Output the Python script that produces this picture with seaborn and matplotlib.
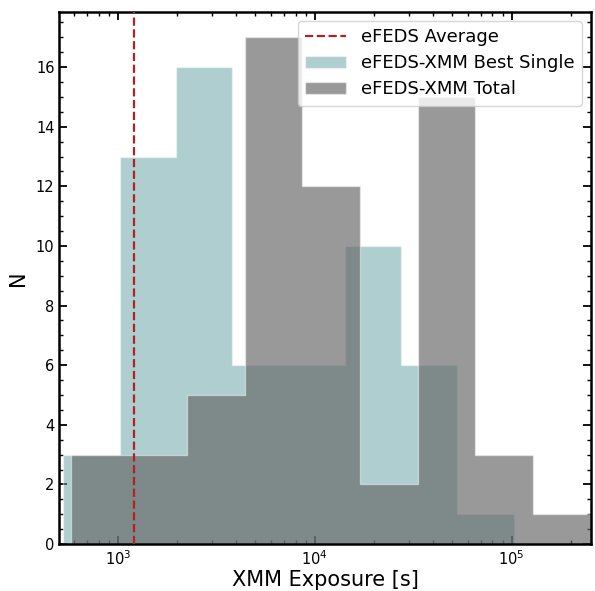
import numpy as np
import pandas as pd
import matplotlib
matplotlib.use("Agg")
import matplotlib.pyplot as plt
import seaborn as sns

# Histogram bin edges (exposure in seconds) and counts per bin
single_edges = [527, 1027, 1979, 3813, 7430, 14305, 27580, 53150, 102370]
single_counts = [3, 13, 16, 6, 6, 10, 6, 1]

total_edges = [582, 1143, 2244, 4406, 8650, 16982, 33340, 65460, 128520, 252400]
total_counts = [3, 3, 5, 17, 12, 2, 15, 3, 1]

efeds_average = 1210  # average eFEDS exposure [s]

sns.set_style("white")
plt.rcParams["font.family"] = ["DejaVu Sans"]
plt.rcParams["text.color"] = "black"
plt.rcParams["axes.labelcolor"] = "black"

fig = plt.figure(figsize=(5.95, 5.91), dpi=100)
ax = fig.add_axes([0.0997, 0.0795, 0.8931, 0.9002])


def centers(edges):
    e = np.log10(np.asarray(edges, dtype=float))
    return 10 ** ((e[:-1] + e[1:]) / 2)


single_df = pd.DataFrame({"exposure": centers(single_edges), "n": single_counts})
total_df = pd.DataFrame({"exposure": centers(total_edges), "n": total_counts})

edge = (1, 1, 1, 0.45)
ax.axvline(efeds_average, color="#b22222", ls="--", lw=1.6, label="eFEDS Average",
           zorder=5)
sns.histplot(data=single_df, x="exposure", weights="n", bins=single_edges,
             element="step", fill=True, color="cadetblue", alpha=0.5,
             edgecolor=edge, linewidth=1.0, ax=ax, label="eFEDS-XMM Best Single")
sns.histplot(data=total_df, x="exposure", weights="n", bins=total_edges,
             element="step", fill=True, color="#686868", alpha=0.675,
             edgecolor=edge, linewidth=1.0, ax=ax, label="eFEDS-XMM Total")

ax.set_xscale("log")
ax.set_xlim(505, total_edges[-1])
ax.set_ylim(0, 17.85)
ax.set_yticks(np.arange(0, 17, 2))
ax.yaxis.set_minor_locator(matplotlib.ticker.MultipleLocator(0.5))

ax.set_xlabel("XMM Exposure [s]", fontsize=15, labelpad=2)
ax.set_ylabel("N", fontsize=15, labelpad=6)

ax.tick_params(which="both", direction="in", top=True, right=True,
               bottom=True, left=True, labelsize=10.5, width=1.3,
               color="black", labelcolor="black")
ax.tick_params(which="major", length=6)
ax.tick_params(which="minor", length=3, width=1.0)
for s in ax.spines.values():
    s.set_linewidth(1.8)
    s.set_color("black")

ax.legend(loc="upper right", fontsize=13, framealpha=0.8, labelspacing=0.45,
          handlelength=2.3)

fig.savefig("out.png", dpi=100)
